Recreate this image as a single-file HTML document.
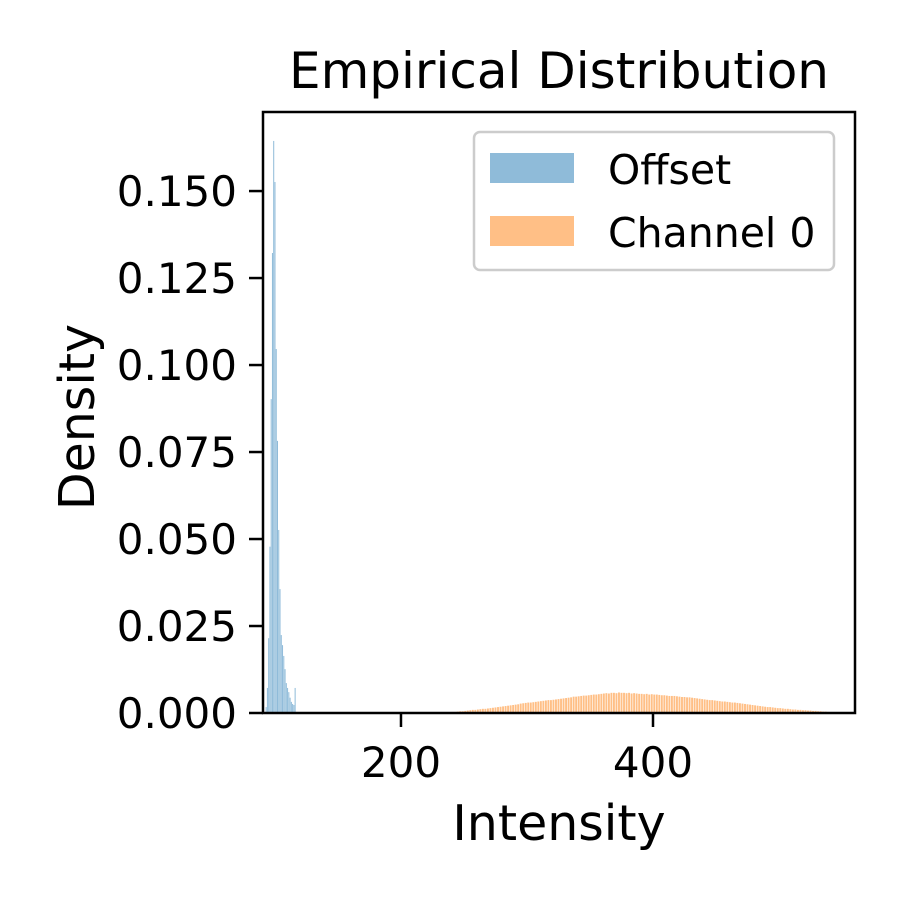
<!DOCTYPE html>
<html><head><meta charset="utf-8"><style>
html,body{margin:0;padding:0;background:#fff;}
svg{display:block;font-family:"DejaVu Sans","Liberation Sans",sans-serif;}
</style></head><body>
<svg id="chart" width="900" height="900" viewBox="0 0 900 900">
<rect width="900" height="900" fill="#fff"/>
<g id="bars"></g>
<g id="axes"></g>
<text x="559" y="88" font-size="50" text-anchor="middle">Empirical Distribution</text>
<text x="559" y="840" font-size="49" text-anchor="middle">Intensity</text>
<text x="0" y="0" font-size="49" text-anchor="middle" transform="translate(94,417) rotate(-90)">Density</text>
<g>
<rect x="474" y="132" width="360" height="138" rx="6" fill="#fff" fill-opacity="0.8" stroke="#cccccc" stroke-width="2.5"/>
<rect x="490" y="153" width="84" height="30" fill="#8fbbd9"/>
<text x="608" y="184" font-size="41">Offset</text>
<rect x="490" y="216" width="84" height="30" fill="#ffbf86"/>
<text x="608" y="247" font-size="41">Channel 0</text>
</g>
</svg>
<script>
const offsetStart = 93;
const offsetValues = [0.0017,0.0072,0.0215,0.0478,0.0902,0.1322,0.1644,0.1526,0.1046,0.0782,0.0526,0.0356,0.0224,0.0195,0.0164,0.0126,0.0086,0.0072,0.006,0.0044,0.0032,0.0026,0.0023,0.0072];
const channelStart = 241;
const channelBinWidth = 2;
const channelValues1e4 = [3,3,4,5,5,6,7,8, 9,9,10,11,12,12,13, 14,15,16,17,18,19,20, 21,22,23,24,25,27, 28,29,30,30,31,32,33, 34,35,36,37,37,38,39, 40,41,42,43,44,45, 47,47,48,49,50,50,51, 52,53,53,54,55,56, 57,56,58,58,57,59,58, 58,57,58,56,57,56,55, 55,54,55,53,54,53, 53,52,51,51,50,49,49, 49,48,47,46,46,45,45, 44,43,42,41,40,39, 38,37,37,36,35,34,33, 33,32,31,30,30,29, 28,27,26,25,24,23,22, 21,20,19,18,17,17, 16,15,14,14,13,12,12, 11,10,10,9,9,8,8, 7,7,6,6,5,5, 4,4,3];
const yTicks = [0, 0.025, 0.05, 0.075, 0.1, 0.125, 0.15];
const yTickLabels = ["0.000","0.025","0.050","0.075","0.100","0.125","0.150"];
const xTicks = [200, 400];
const xTickLabels = ["200","400"];

const L=263,R=855,T=112,B=713;
const xMin=90.5,xMax=560.3,yMin=0,yMax=0.17272;
const sx=v=>L+(v-xMin)/(xMax-xMin)*(R-L);
const sy=v=>B-(v-yMin)/(yMax-yMin)*(B-T);
const NS="http://www.w3.org/2000/svg";
const bars=document.getElementById('bars');
const axes=document.getElementById('axes');
function mk(tag,attrs,parent){const e=document.createElementNS(NS,tag);for(const k in attrs)e.setAttribute(k,attrs[k]);parent.appendChild(e);return e;}

offsetValues.forEach((v,i)=>{
  const x0=offsetStart+i-0.4, x1=offsetStart+i+0.4;
  const r=mk('rect',{x:sx(x0),y:sy(v),width:sx(x1)-sx(x0),height:sy(0)-sy(v),fill:'#8fbbd9'},bars);
  
  
});
channelValues1e4.forEach((v,i)=>{
  const val=v/10000;
  const c=channelStart+i*channelBinWidth;
  const x0=c-0.75, x1=c+0.75;
  const r=mk('rect',{x:sx(x0),y:sy(val),width:sx(x1)-sx(x0),height:sy(0)-sy(val),fill:'#ffbf86'},bars);
  
  
});

const frame=mk('rect',{x:L,y:T,width:R-L,height:B-T,fill:'none',stroke:'#000','stroke-width':2.5},axes);



yTicks.forEach((t,i)=>{
  const y=sy(t);
  const ln=mk('line',{x1:L-14,x2:L,y1:y,y2:y,stroke:'#000','stroke-width':2.5},axes);
  
  
  const tx=mk('text',{x:L-26,y:y+15,'font-size':42,'text-anchor':'end'},axes);
  tx.textContent=yTickLabels[i];
  
  
});
xTicks.forEach((t,i)=>{
  const x=sx(t);
  const ln=mk('line',{x1:x,x2:x,y1:B,y2:B+14,stroke:'#000','stroke-width':2.5},axes);
  
  
  const tx=mk('text',{x:x,y:B+64,'font-size':42,'text-anchor':'middle'},axes);
  tx.textContent=xTickLabels[i];
  
  
});
</script>
</body></html>
